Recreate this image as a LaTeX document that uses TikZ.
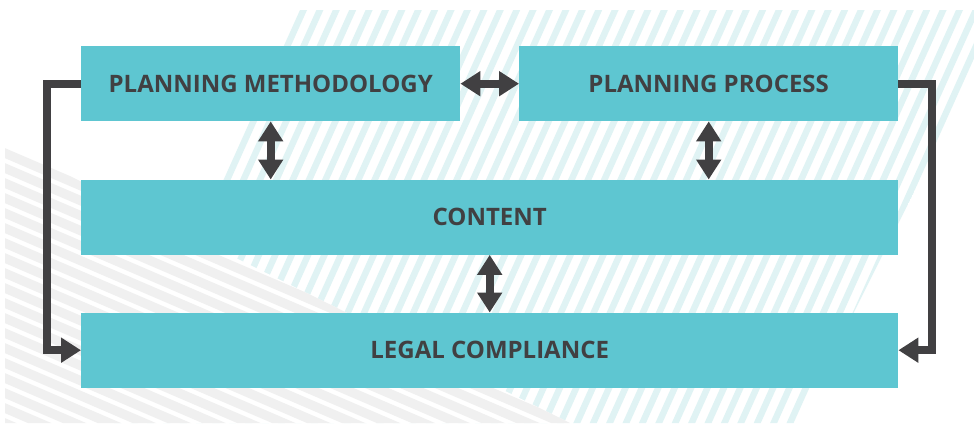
\documentclass[tikz,border=0pt]{standalone}
\usepackage{fontspec}
\setmainfont{Open Sans}
\usetikzlibrary{arrows.meta}
\definecolor{boxc}{HTML}{5EC6D1}
\definecolor{darkc}{HTML}{414042}
\definecolor{stripet}{HTML}{E0F3F4}
\definecolor{stripeg}{HTML}{F0F0F0}
\begin{document}
\begin{tikzpicture}[x=1pt,y=-1pt,
  box/.style={fill=boxc, draw=none, inner sep=0pt, anchor=north west,
    minimum height=75pt, text=darkc, font=\bfseries\fontsize{24}{29}\selectfont},
  tip/.tip={Triangle[width=24pt,length=20pt]},
  conn/.style={draw=darkc, line width=8pt, -{tip}},
  dbl/.style={draw=darkc, line width=8pt, {tip}-{tip}}]
\useasboundingbox (0,0) rectangle (974,423);
\fill[white] (0,0) rectangle (974,423);
% teal stripes
\begin{scope}
\clip (300,10) -- (1005,10) -- (798.5,423) -- (114,423) -- cycle;
\foreach \k in {-20,...,45} {
  \pgfmathsetmacro{\c}{308+16.4*\k}
  \draw[stripet, line width=6.4pt] ({\c+4.5},-10) -- ({\c-0.45*433},433);
}
\end{scope}
% grey stripes
\fill[white] (5,144) -- (570,423) -- (5,423) -- cycle;
\begin{scope}
\clip (5,144) -- (570,423) -- (5,423) -- cycle;
\foreach \k in {-2,...,20} {
  \pgfmathsetmacro{\b}{151+15*\k}
  \draw[stripeg, line width=9.2pt] (0,\b) -- (600,{\b+0.43*600});
}
\end{scope}
% boxes
\node[box, minimum width=379pt] (pm) at (81,46) {PLANNING METHODOLOGY};
\node[box, minimum width=379pt] (pp) at (519,46) {PLANNING PROCESS};
\node[box, minimum width=817pt] (content) at (81,179.5) {CONTENT};
\node[box, minimum width=817pt] (legal) at (81,312.5) {LEGAL COMPLIANCE};
% connectors
\draw[dbl] (pm.east) -- (pp.west);
\draw[dbl] (pm.south) -- (pm.south |- content.north);
\draw[dbl] (pp.south) -- (pp.south |- content.north);
\draw[dbl] (content.south) -- (legal.north);
\draw[conn] (pm.west) -- ++(-34,0) |- (legal.west);
\draw[conn] (pp.east) -- ++(34,0) |- (legal.east);
\end{tikzpicture}
\end{document}
